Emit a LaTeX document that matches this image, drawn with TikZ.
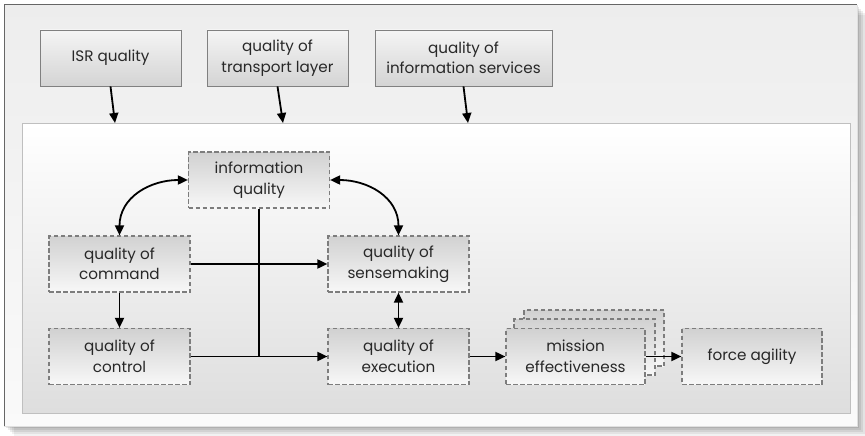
\documentclass[tikz,border=0pt]{standalone}
\usepackage{fontspec}
\setmainfont{Poppins}
\usetikzlibrary{arrows.meta,shadings}
\definecolor{txt}{RGB}{40,40,40}
\definecolor{dashc}{RGB}{125,125,125}
\begin{document}
\begin{tikzpicture}[x=1pt,y=-1pt,
  font=\fontsize{15.2}{20.5}\selectfont, text=txt,
  topbox/.style={draw=black!50, line width=0.8pt, top color=black!4, bottom color=black!17,
     minimum width=141pt, minimum height=56pt, inner sep=0pt, align=center},
  dbox/.style={draw=dashc, dash pattern=on 4.5pt off 2.5pt, line width=1.2pt,
     top color=black!18, middle color=white, bottom color=black!3,
     minimum width=141pt, minimum height=56pt, inner sep=0pt, align=center},
  tip/.tip={Triangle[length=10pt,width=9pt]},
  arr/.style={line width=1.8pt, -tip},
  darr/.style={line width=1.8pt, tip-tip},
  ln/.style={line width=1.8pt}]
\useasboundingbox (0,0) rectangle (865,436);
\fill[white] (0,0) rectangle (865,436);
% outer frame with soft shadow
\foreach \i/\o in {10/0.05,8/0.06,6/0.07,4/0.08,2/0.09}{
  \fill[black, opacity=\o] (4+\i,5+\i) rectangle (857+\i,426+\i);
}
\node[top color=black!7, bottom color=black!2,
  minimum width=853pt, minimum height=421pt, inner sep=0pt, anchor=north west] (frame) at (4,5) {};
\draw[black!60, line width=1pt] (frame.south west) -- (frame.north west) -- (frame.north east);
\draw[black!12, line width=0.8pt] (frame.north east) -- (frame.south east) -- (frame.south west);
% inner panel
\node[draw=black!25, line width=0.8pt, top color=white, bottom color=black!13,
  minimum width=828pt, minimum height=290pt, inner sep=0pt, anchor=north west] (panel) at (22,123) {};
% top boxes
\node[topbox] (isr) at (110.5,58) {ISR quality};
\node[topbox] (tl) at (277.5,58) {quality of\\transport layer};
\node[topbox, minimum width=177pt] (is) at (463.5,58) {quality of\\information services};
\coordinate (p1) at (115,123);
\coordinate (p2) at (283,123);
\coordinate (p3) at (468,123);
\draw[arr] (isr.south) -- (p1);
\draw[arr] (tl.south) -- (p2);
\draw[arr] (is.south) -- (p3);
% inner boxes
\node[dbox] (iq) at (259,180) {information\\quality};
\node[dbox] (com) at (119.5,264) {quality of\\command};
\node[dbox] (sen) at (398.5,264) {quality of\\sensemaking};
\node[dbox] (ctl) at (119.5,356.5) {quality of\\control};
\node[dbox] (exe) at (398.5,356.5) {quality of\\execution};
\node[dbox, minimum width=140pt] (me3) at (594,338) {};
\node[dbox, minimum width=141pt] (me2) at (584.5,347) {};
\node[dbox, minimum width=139pt] (me) at (575.5,356.5) {mission\\effectiveness};
\node[dbox, minimum width=140pt] (fa) at (752,356.5) {force agility};
% connectors
\draw[darr] (com.north) .. controls +(0,-38) and +(-38,0) .. (iq.west);
\draw[darr] (sen.north) .. controls +(0,-38) and +(38,0) .. (iq.east);
\draw[arr] (com.east) -- (sen.west);
\draw[ln] (iq.south) -- (iq.south |- ctl.east);
\draw[arr] (ctl.east) -- (exe.west);
\draw[arr] (com.south) -- (ctl.north);
\draw[darr] (sen.south) -- (exe.north);
\draw[arr] (exe.east) -- (me.west);
\draw[arr] (me.east) -- (fa.west);
\end{tikzpicture}
\end{document}
